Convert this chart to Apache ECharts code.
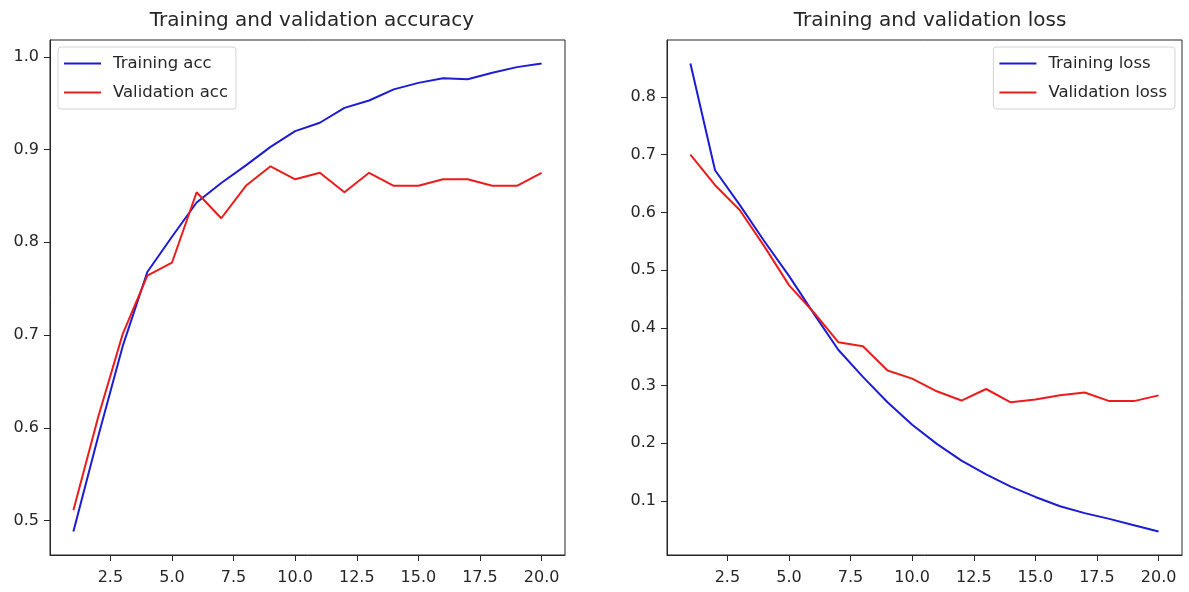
<!DOCTYPE html>
<html>
<head>
<meta charset="utf-8">
<script src="https://cdn.jsdelivr.net/npm/echarts@6/dist/echarts.min.js"></script>
<style>
  html, body { margin: 0; padding: 0; background: #fff; }
  #chart { width: 1189px; height: 592px; }
</style>
</head>
<body>
<div id="chart"></div>
<script>
// epochs 1..20, values
const epochs = [1, 2, 3, 4, 5, 6, 7, 8, 9, 10, 11, 12, 13, 14, 15, 16, 17, 18, 19, 20]
const trainAcc = [0.488, 0.590, 0.688, 0.768, 0.806, 0.843, 0.864, 0.883, 0.903, 0.920,
                  0.929, 0.945, 0.953, 0.965, 0.972, 0.977, 0.976, 0.983, 0.989, 0.993]
const valAcc = [0.511, 0.611, 0.701, 0.764, 0.778, 0.854, 0.826, 0.861, 0.882, 0.868,
                0.875, 0.854, 0.875, 0.861, 0.861, 0.868, 0.868, 0.861, 0.861, 0.875]
const trainLoss = [0.858, 0.673, 0.613, 0.550, 0.490, 0.425, 0.362, 0.315, 0.271, 0.232,
                   0.199, 0.170, 0.146, 0.125, 0.107, 0.091, 0.079, 0.069, 0.058, 0.047]
const valLoss = [0.700, 0.647, 0.604, 0.541, 0.474, 0.427, 0.375, 0.368, 0.326, 0.312,
                 0.290, 0.274, 0.294, 0.271, 0.276, 0.283, 0.288, 0.273, 0.273, 0.283]

const xTicks = [2.5, 5, 7.5, 10, 12.5, 15, 17.5, 20]
const accTicks = [0.5, 0.6, 0.7, 0.8, 0.9, 1.0]
const lossTicks = [0.1, 0.2, 0.3, 0.4, 0.5, 0.6, 0.7, 0.8]

const FONT = 'DejaVu Sans'
const INK = '#262626'
const BLUE = '#1c1cd2'
const RED = '#ea1c1c'

// matplotlib style 5% margins
function padRange(a, b) {
  const all = a.concat(b)
  const lo = Math.min(...all), hi = Math.max(...all)
  const m = (hi - lo) * 0.05
  return [lo - m, hi + m]
}
const accRange = padRange(trainAcc, valAcc)
const lossRange = padRange(trainLoss, valLoss)
const xRange = [epochs[0] - 0.95, epochs[epochs.length - 1] + 0.95]

const pairs = vals => epochs.map((e, i) => [e, vals[i]])

function xAxisFor(idx) {
  return {
    type: 'value',
    gridIndex: idx,
    min: xRange[0],
    max: xRange[1],
    axisLine: { show: true, onZero: false, lineStyle: { color: INK, width: 1 } },
    axisTick: { show: true, length: 6, customValues: xTicks, lineStyle: { color: INK } },
    axisLabel: {
      customValues: xTicks,
      formatter: v => v.toFixed(1),
      margin: 15, color: INK, fontSize: 16, fontFamily: FONT
    },
    splitLine: { show: false }
  }
}

function yAxisFor(idx, range, ticks) {
  return {
    type: 'value',
    gridIndex: idx,
    min: range[0],
    max: range[1],
    axisLine: { show: true, onZero: false, lineStyle: { color: INK, width: 1 } },
    axisTick: { show: true, length: 6, customValues: ticks, lineStyle: { color: INK } },
    axisLabel: {
      customValues: ticks,
      formatter: v => v.toFixed(1),
      margin: 11, color: INK, fontSize: 16, fontFamily: FONT
    },
    splitLine: { show: false }
  }
}

function lineSeries(name, vals, color, idx) {
  return {
    name: name,
    type: 'line',
    data: pairs(vals),
    xAxisIndex: idx,
    yAxisIndex: idx,
    symbol: 'none',
    showSymbol: false,
    color: color,
    lineStyle: { width: 2, color: color }
  }
}

function legendFor(names, pos) {
  return Object.assign({
    data: names,
    orient: 'vertical',
    top: 47,
    padding: [8, 8, 8, 5],
    itemWidth: 37,
    itemHeight: 14,
    itemGap: 12,
    backgroundColor: '#fff',
    borderColor: '#d4d4d4',
    borderWidth: 1,
    borderRadius: 3,
    itemStyle: { opacity: 0 },
    lineStyle: { width: 2 },
    textStyle: { fontSize: 16.5, color: INK, fontFamily: FONT, padding: [0, 0, 0, 7] }
  }, pos)
}

const chart = echarts.init(document.getElementById('chart'))

chart.setOption({
  animation: false,
  backgroundColor: '#fff',
  title: [
    { text: 'Training and validation accuracy', left: 307, top: 6, textAlign: 'center',
      textStyle: { fontSize: 20, fontWeight: 'normal', color: INK, fontFamily: FONT } },
    { text: 'Training and validation loss', left: 925, top: 6, textAlign: 'center',
      textStyle: { fontSize: 20, fontWeight: 'normal', color: INK, fontFamily: FONT } }
  ],
  legend: [
    legendFor(['Training acc', 'Validation acc'], { left: 58 }),
    legendFor(['Training loss', 'Validation loss'], { right: 14 })
  ],
  grid: [
    { left: 50, top: 40, width: 515, height: 515, show: true, borderColor: INK, borderWidth: 1 },
    { left: 667, top: 40, width: 515, height: 515, show: true, borderColor: INK, borderWidth: 1 }
  ],
  xAxis: [xAxisFor(0), xAxisFor(1)],
  yAxis: [yAxisFor(0, accRange, accTicks), yAxisFor(1, lossRange, lossTicks)],
  series: [
    lineSeries('Training acc', trainAcc, BLUE, 0),
    lineSeries('Validation acc', valAcc, RED, 0),
    lineSeries('Training loss', trainLoss, BLUE, 1),
    lineSeries('Validation loss', valLoss, RED, 1)
  ]
})
</script>
</body>
</html>
